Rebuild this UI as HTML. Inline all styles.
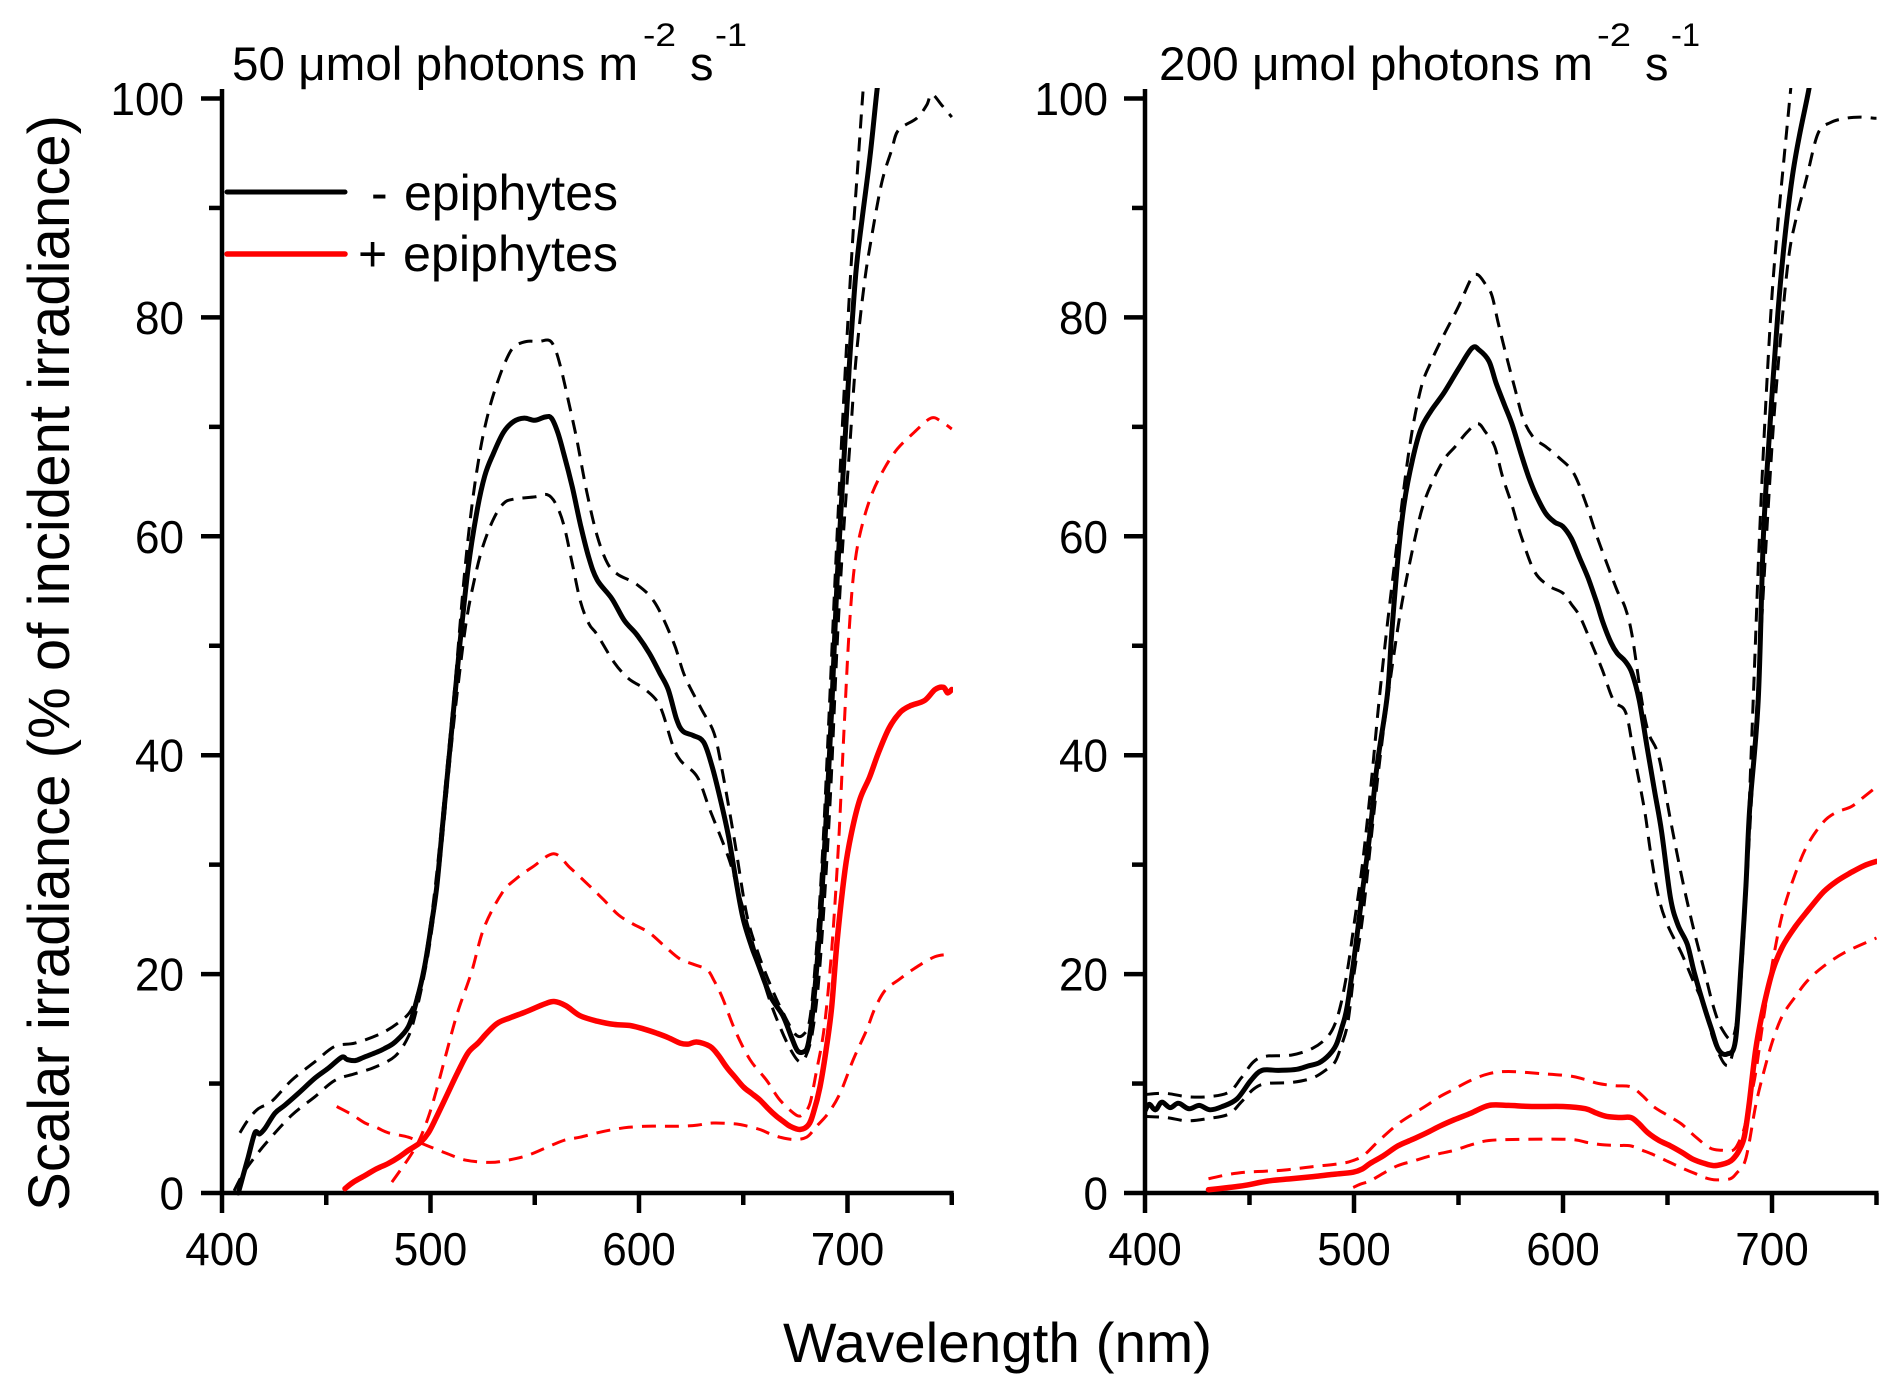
<!DOCTYPE html>
<html>
<head>
<meta charset="utf-8">
<style>
html,body{margin:0;padding:0;background:#fff;}
svg{display:block;}
text{font-family:"Liberation Sans",Arial,sans-serif;fill:#000;}
</style>
</head>
<body>
<svg id="chart" xmlns="http://www.w3.org/2000/svg" width="1890" height="1387" viewBox="0 0 1890 1387">
<rect x="0" y="0" width="1890" height="1387" fill="#fff"/>
<defs>
<clipPath id="clipL"><rect x="222" y="88" width="731" height="1110"/></clipPath>
<clipPath id="clipR"><rect x="1145" y="88" width="732" height="1110"/></clipPath>
</defs>

<!-- Titles -->
<text x="232" y="80" font-size="47" textLength="406" lengthAdjust="spacingAndGlyphs">50 μmol photons m</text>
<text x="643" y="46" font-size="32" textLength="33" lengthAdjust="spacingAndGlyphs">-2</text>
<text x="690" y="80" font-size="47">s</text>
<text x="715" y="46" font-size="32" textLength="32" lengthAdjust="spacingAndGlyphs">-1</text>

<text x="1159" y="80" font-size="47" textLength="434" lengthAdjust="spacingAndGlyphs">200 μmol photons m</text>
<text x="1597" y="46" font-size="32" textLength="34" lengthAdjust="spacingAndGlyphs">-2</text>
<text x="1645" y="80" font-size="47">s</text>
<text x="1671" y="46" font-size="32" textLength="29" lengthAdjust="spacingAndGlyphs">-1</text>

<!-- Axis titles -->
<text transform="translate(69,663) rotate(-90)" text-anchor="middle" font-size="58" textLength="1096" lengthAdjust="spacingAndGlyphs">Scalar irradiance (% of incident irradiance)</text>
<text x="783" y="1362" font-size="56" textLength="429" lengthAdjust="spacingAndGlyphs">Wavelength (nm)</text>

<!-- Legend -->
<line x1="227" y1="192" x2="345" y2="192" stroke="#000" stroke-width="5" stroke-linecap="round"/>
<line x1="227" y1="254" x2="345" y2="254" stroke="#ff0000" stroke-width="5.5" stroke-linecap="round"/>
<text x="371" y="210" font-size="50">-</text>
<text x="404" y="210" font-size="50" textLength="214" lengthAdjust="spacingAndGlyphs">epiphytes</text>
<text x="358" y="271" font-size="50">+</text>
<text x="403" y="271" font-size="50" textLength="215" lengthAdjust="spacingAndGlyphs">epiphytes</text>

<g id="axes"></g>
<g id="curves"></g>
</svg>
<script>
(function(){
  var NS="http://www.w3.org/2000/svg";
  var svg=document.getElementById('chart');
  var axes=document.getElementById('axes');
  var curves=document.getElementById('curves');
  function Y(v){return 1193 - v*10.945;}
  var P={L:{x0:222,k:2.085,clip:'clipL',lab:184},R:{x0:1145,k:2.09,clip:'clipR',lab:1108}};
  function el(tag,attrs,parent){var e=document.createElementNS(NS,tag);for(var a in attrs)e.setAttribute(a,attrs[a]);(parent||svg).appendChild(e);return e;}
  function line(x1,y1,x2,y2,w){el('line',{x1:x1,y1:y1,x2:x2,y2:y2,stroke:'#000','stroke-width':w||4.5,'stroke-linecap':'butt'},axes);}
  function txt(x,y,s,anchor,size){
    var t=el('text',{x:x,y:y,'font-size':size,'text-anchor':anchor,textLength:(s.length*24.5).toFixed(1),lengthAdjust:'spacingAndGlyphs'},axes);
    t.textContent=s;
  }

  ['L','R'].forEach(function(key){
    var p=P[key];
    var X=function(l){return p.x0+(l-400)*p.k;};
    line(p.x0,89,p.x0,1195,4.5);
    line(p.x0-2,1193,X(750)+2,1193,4.5);
    for(var v=0;v<=100;v+=10){
      var major=(v%20===0);
      line(p.x0-(major?21:13),Y(v),p.x0,Y(v),4.5);
      if(major) txt(p.lab,Y(v)+16.5,String(v),'end',46);
    }
    for(var l=400;l<=750;l+=50){
      var mj=(l%100===0);
      line(X(l),1193,X(l),1193+(mj?20:12),4.5);
      if(mj) txt(X(l),1265,String(l),'middle',46);
    }
  });

  function pathD(pts,p){
    var q=pts.map(function(a){return [p.x0+(a[0]-400)*p.k, Y(a[1])];});
    var d='M'+q[0][0].toFixed(1)+','+q[0][1].toFixed(1);
    for(var i=0;i<q.length-1;i++){
      var p0=q[i-1]||q[i],p1=q[i],p2=q[i+1],p3=q[i+2]||q[i+1];
      var t=6;
      var c1x=p1[0]+(p2[0]-p0[0])/t,c1y=p1[1]+(p2[1]-p0[1])/t;
      var c2x=p2[0]-(p3[0]-p1[0])/t,c2y=p2[1]-(p3[1]-p1[1])/t;
      d+=' C'+c1x.toFixed(1)+','+c1y.toFixed(1)+' '+c2x.toFixed(1)+','+c2y.toFixed(1)+' '+p2[0].toFixed(1)+','+p2[1].toFixed(1);
    }
    return d;
  }
  function curve(key,pts,color,dashed){
    var p=P[key];
    el('path',{d:pathD(pts,p),fill:'none',stroke:color,'stroke-width':dashed?3:(color==='#000'?5:5.5),
      'stroke-dasharray':dashed?'14 9':'none','stroke-linejoin':'round','stroke-linecap':dashed?'butt':'round',
      'clip-path':'url(#'+p.clip+')'},curves);
  }

  // ---------- LEFT PANEL (50) ----------
  var L_bs=[[407.8,0],[410,1.5],[412.6,3.3],[415.8,5.5],[418,5.4],[420.6,5.9],[425.4,7.3],[430,8],[436.6,9.1],[444.6,10.5],[451,11.4],[457.4,12.4],[460,12.2],[463.8,12.1],[468,12.4],[473.4,12.8],[478,13.2],[483,13.8],[489.4,15.2],[493.4,17.6],[497,20.5],[500,24],[503,28],[506,34],[510,42],[514,50],[518,57],[522,62],[526,65.5],[530,67.5],[535,69.5],[540,70.5],[545,70.8],[550,70.6],[555,70.9],[558,70.8],[561,69.5],[564,67.5],[568,64.5],[572,61],[576,58],[580,56],[587,54.3],[593,52.3],[599,51],[605,49.3],[610,47.5],[614,46],[618,43.3],[621,42.2],[626,41.8],[631,41.2],[635,39],[639,36],[643,32.5],[647,28],[650,25],[654,22.5],[657,21],[663,18],[669,16.2],[673,14.3],[676,13],[679,12.9],[681,13.5],[683,16],[685,20],[687,25],[690,35],[692.6,45],[695,56],[698,66],[701,76],[704,84],[707,89],[710.8,94.7],[714.3,101],[716,103]];
  var L_bu=[[408.6,5.5],[412.6,6.7],[417.4,7.7],[424,8.4],[433.4,10.3],[444.6,12],[454.2,13.4],[463.8,13.7],[476.6,14.6],[486.2,15.8],[491,16.8],[495,19],[498,22],[501,26],[504,31],[508,39],[512,47],[516,56],[520,63],[524,68],[528,71.5],[532,74],[536,76],[540,77.3],[546,77.8],[552,77.8],[557,77.9],[560,77],[563,75],[566,72.5],[570,69],[575,64],[580,60],[585,57.5],[590,56.5],[599,55.6],[607.7,53.9],[616.6,50.3],[622,47.2],[630,44.2],[636,42],[640,38.5],[646,32],[651.6,25.5],[657,22],[663,19],[669,16.5],[675,14.5],[679,14.5],[682,16],[685,22],[688,31],[691,43],[694,56],[697,68],[700,79],[702.8,88],[705,94],[707.6,101],[709,103]];
  var L_bl=[[405.8,0.2],[410.2,1.8],[415.8,3.3],[422.2,4.8],[433.4,7.1],[444.6,8.8],[454.2,10.3],[463.8,10.9],[473.4,11.5],[483,12.5],[489.4,14.3],[493,16.5],[496,19],[499,22],[502,26],[505,31],[509,39],[513,46],[517,52],[521,56],[525,59],[530,61.5],[535,63],[540,63.4],[550,63.6],[556,63.8],[560,63],[564,61],[568,57.5],[572,54],[576,52],[580,51],[588,48.5],[595,47],[603,46],[610,44.5],[616,41],[620,39.5],[628,38],[634,35],[643,30.6],[649,26.6],[655,22.5],[662,18],[668,15],[673,13],[677,12],[680,12.5],[683,14.5],[686,19],[689,27],[692,37],[695,50],[698,60],[701,68],[704,76],[708,83],[711.6,87.4],[716.4,92.3],[721.2,95.3],[724.4,97.1],[733.2,98.2],[738,99.4],[740.4,100.4],[745.2,99.4],[750,98.3]];
  var L_rs=[[459,0.4],[463,1],[468.6,1.6],[474,2.2],[479.8,2.7],[485,3.3],[489.4,3.9],[495,4.6],[499,5.5],[503,7],[508,9],[513,11],[518,12.8],[522.8,13.7],[527,14.6],[532,15.5],[538,16],[545,16.5],[550,16.9],[555,17.3],[559.4,17.5],[565,17.1],[571.7,16.2],[580,15.7],[588,15.4],[595.7,15.3],[602,15.0],[608.5,14.6],[614,14.2],[619.7,13.7],[623.5,13.6],[627.7,13.8],[634,13.4],[638,12.6],[642,11.5],[646,10.6],[650,9.7],[654,9.1],[658,8.5],[662,7.7],[666,7],[669.5,6.5],[672.4,6.1],[677.2,5.8],[681.2,6.2],[683.6,7.3],[686.8,9.7],[690,13.4],[692.4,17],[695,23],[698.8,29.5],[702,33],[706,36],[710.6,38],[715,40.3],[720,42.5],[725.2,43.9],[730,44.5],[737,45],[742,46],[746,46.2],[748,45.7],[750,46]];
  var L_ru=[[481.5,1],[486,2.2],[491,3.6],[495,5],[499.1,7],[503,9.5],[507.9,13],[513,16.5],[519.7,20.2],[525.6,24.2],[534.3,27.4],[541,28.7],[549.1,29.8],[559.2,31],[567,29.7],[575.5,28.2],[583,26.8],[590.2,25.4],[597,24.6],[604.8,23.8],[612,22.6],[619.5,21.4],[626,20.9],[632.6,20.4],[636,19.4],[640.1,17.8],[646,14.9],[653.2,12.2],[661.2,10.3],[667.6,8.5],[675.6,7.1],[679,7.3],[682,8.2],[685.2,11.2],[688.4,14.5],[691,19],[693.5,25],[696,33],[698.5,43],[701,52],[703.5,57.5],[707,61],[712,64],[718,66.3],[724,68],[732,69.5],[740,70.8],[745,70.5],[750,69.8]];
  var L_rl=[[455,7.9],[462,7.2],[468.6,6.4],[474,6],[479.8,5.5],[489.4,5.1],[495,4.6],[500,4.2],[508,3.6],[517,3],[528.7,2.8],[537,3],[546,3.4],[555,4.1],[563.8,4.8],[571.7,5.1],[580,5.5],[587.7,5.8],[595,6.0],[603.7,6.1],[612,6.1],[619.7,6.1],[628,6.2],[635.6,6.4],[646.8,6.3],[652,6.1],[658,5.8],[663,5.4],[667.6,5.1],[674,4.9],[680.4,5.1],[685.2,6.1],[690.8,7.3],[696.4,9.1],[702.8,12.2],[709.2,14.9],[713,16.8],[718,18.5],[724.7,19.5],[732,20.5],[742,21.6],[750,21.8]];

  // ---------- RIGHT PANEL (200) ----------
  var R_bs=[[400,7.5],[402,8.1],[405,7.6],[408,8.3],[412,7.8],[416,8.2],[421,7.7],[426,8.0],[431,7.6],[437,7.9],[444,8.6],[450.7,10.3],[456,11.2],[464,11.2],[472.6,11.3],[478,11.6],[483.3,11.9],[488,12.6],[491.4,13.5],[494,15],[496.8,17.1],[500.9,22.7],[504,27.5],[507.7,33],[511,39],[515.9,45.4],[518,51],[521,58],[524,63],[528,67],[532,69.8],[537,71.5],[543,73.1],[550,75.3],[556.5,77.2],[560,77],[564.6,76],[568,74],[572,72],[575.5,70.3],[580,67.5],[583.6,65.4],[587,63.8],[591.7,62.1],[596,61.3],[599.9,60.9],[604,59.8],[608,58],[612,56.2],[616.2,53.9],[619,52.2],[622.9,50.3],[626,49.3],[629.7,48.6],[633,47.5],[636.5,45],[640.6,40.3],[644,36.5],[647.2,33],[651.4,27],[655,24.5],[659.5,22.7],[663,20],[667.6,17],[671,15],[674.4,13.1],[678.5,12.7],[682.5,13.9],[685.3,21.1],[687.5,28],[689.3,35],[693.4,45],[695.9,60],[699,70],[702.8,80.4],[706,87],[709.6,92.7],[713,96.5],[717.7,100.9],[719,103]];
  var R_bu=[[400,9],[410,9.1],[420,8.8],[430,8.8],[440,9.2],[446,10.5],[452,12],[458,12.5],[470,12.6],[480,13.2],[487,14.2],[491,15.5],[494,17.5],[497,20.5],[500,24.5],[504,30],[508,37],[512,45],[516,52],[521,60],[526.6,68.2],[532,73.5],[537,76],[543,78.4],[550,81],[556,83.5],[559.2,83.9],[563,83],[566,82],[569,79.5],[573,76.4],[577,73.5],[581,70.7],[586,69],[591.7,68.2],[598,67.2],[605,65.8],[611,63],[616.2,60],[622,57],[626,55],[629.7,53.5],[633,51],[637.7,45],[641,42],[645.8,39.9],[651,34.5],[656.7,29],[662,24.5],[667.6,20.3],[672,17],[676,15],[681,14.1],[684,17],[686,22],[688,30],[690,40],[692,50],[694,60],[697,72],[700,82],[703,89],[706,95],[708.6,100.2],[710,103]];
  var R_bl=[[400,7],[410,6.9],[420,6.6],[430,6.8],[440,7.2],[446,8.3],[452,9.5],[458,10],[470,10.1],[480,10.5],[487,11.3],[491,12],[494,13.5],[497,15.5],[500,20],[504,25],[508,32],[512,39],[516,45],[521.2,51.9],[525,56],[529.4,60],[533,62.8],[537.5,65],[543,67],[548.4,68.2],[554,69.5],[559.2,70.3],[563,69.5],[567.3,68.2],[571,65.5],[575.5,62.9],[580,60],[586.3,56.8],[593,55.5],[600,54.8],[604,53.8],[608,52.7],[613,50.5],[618.8,47.8],[624.2,45],[630,43.9],[634,40],[639,35],[642,31],[645.8,27],[650,24.5],[656.7,21.9],[662,19.5],[667.6,17],[672,14],[676.9,11.9],[680,12],[683,15],[686,22],[689,32],[692,42],[695,52],[698,62],[701,71],[705,80],[708,85.5],[711,88.6],[716.5,92.7],[722,96.8],[728,97.8],[735.5,98.2],[742,98.3],[749,98.2],[750,98.2]];
  var R_rs=[[430.4,0.3],[440,0.5],[448,0.7],[458.8,1.1],[470,1.3],[480.5,1.5],[490,1.7],[499.6,1.9],[504,2.2],[507.7,2.7],[514,3.4],[521,4.3],[528,4.9],[534.8,5.5],[541,6.1],[548,6.7],[556,7.3],[564.6,8.0],[574,8.0],[585,7.9],[600,7.9],[610.7,7.7],[616,7.3],[621,7.0],[627,6.9],[632.4,6.9],[636,6.4],[640.6,5.5],[646,4.8],[651.4,4.3],[657,3.7],[662,3.1],[667.6,2.7],[672,2.5],[675.8,2.6],[679,2.8],[681.3,3.1],[684,3.8],[686.7,5.1],[689,8],[692.2,13.1],[696,17],[700.3,20.3],[705,22.5],[711,24.3],[718,26],[724.6,27.5],[731,28.5],[738,29.3],[744,29.9],[750,30.3]];
  var R_ru=[[430.4,1.3],[440,1.7],[448,1.9],[458,2.0],[467,2.1],[480,2.4],[494,2.7],[500,3.0],[505,3.5],[512,4.8],[521,6.3],[528,7.2],[534.8,8.0],[541,8.8],[548,9.5],[556,10.3],[564.6,10.9],[574,11.1],[590,10.9],[603,10.7],[610,10.4],[617,10.0],[625,9.8],[632.4,9.7],[638,8.9],[643.3,7.9],[650,7.1],[656.7,6.3],[663,5.2],[670.4,4.1],[676,3.9],[681.3,3.9],[684,4.6],[686.7,5.9],[689,8],[692.2,11],[696,16],[700.3,21.1],[705,25.5],[711,29.1],[717,31.8],[724.6,33.9],[731,34.8],[738,35.3],[744,36.2],[750,37.1]];
  var R_rl=[[499.6,0.5],[503,0.8],[507.7,1.1],[514,1.8],[521,2.5],[528,2.9],[534.8,3.3],[541,3.6],[548,3.9],[556,4.4],[564.6,4.8],[580,4.9],[603,4.9],[612,4.6],[619,4.4],[626,4.35],[632.4,4.3],[638,3.9],[643.3,3.5],[650,2.9],[656.7,2.3],[663,1.8],[668,1.4],[673.3,1.2],[680,1.3],[683,1.8],[686.7,2.7],[689,4.5],[692.2,8.0],[696,11],[700.3,13.9],[705,16.2],[711,17.9],[717,19.4],[724.6,20.7],[735,22],[750,23.3]];

  curve('L',L_ru,'#ff0000',true);
  curve('L',L_rl,'#ff0000',true);
  curve('L',L_bu,'#000',true);
  curve('L',L_bl,'#000',true);
  curve('L',L_rs,'#ff0000',false);
  curve('L',L_bs,'#000',false);

  curve('R',R_ru,'#ff0000',true);
  curve('R',R_rl,'#ff0000',true);
  curve('R',R_bu,'#000',true);
  curve('R',R_bl,'#000',true);
  curve('R',R_rs,'#ff0000',false);
  curve('R',R_bs,'#000',false);
})();
</script>
</body>
</html>
